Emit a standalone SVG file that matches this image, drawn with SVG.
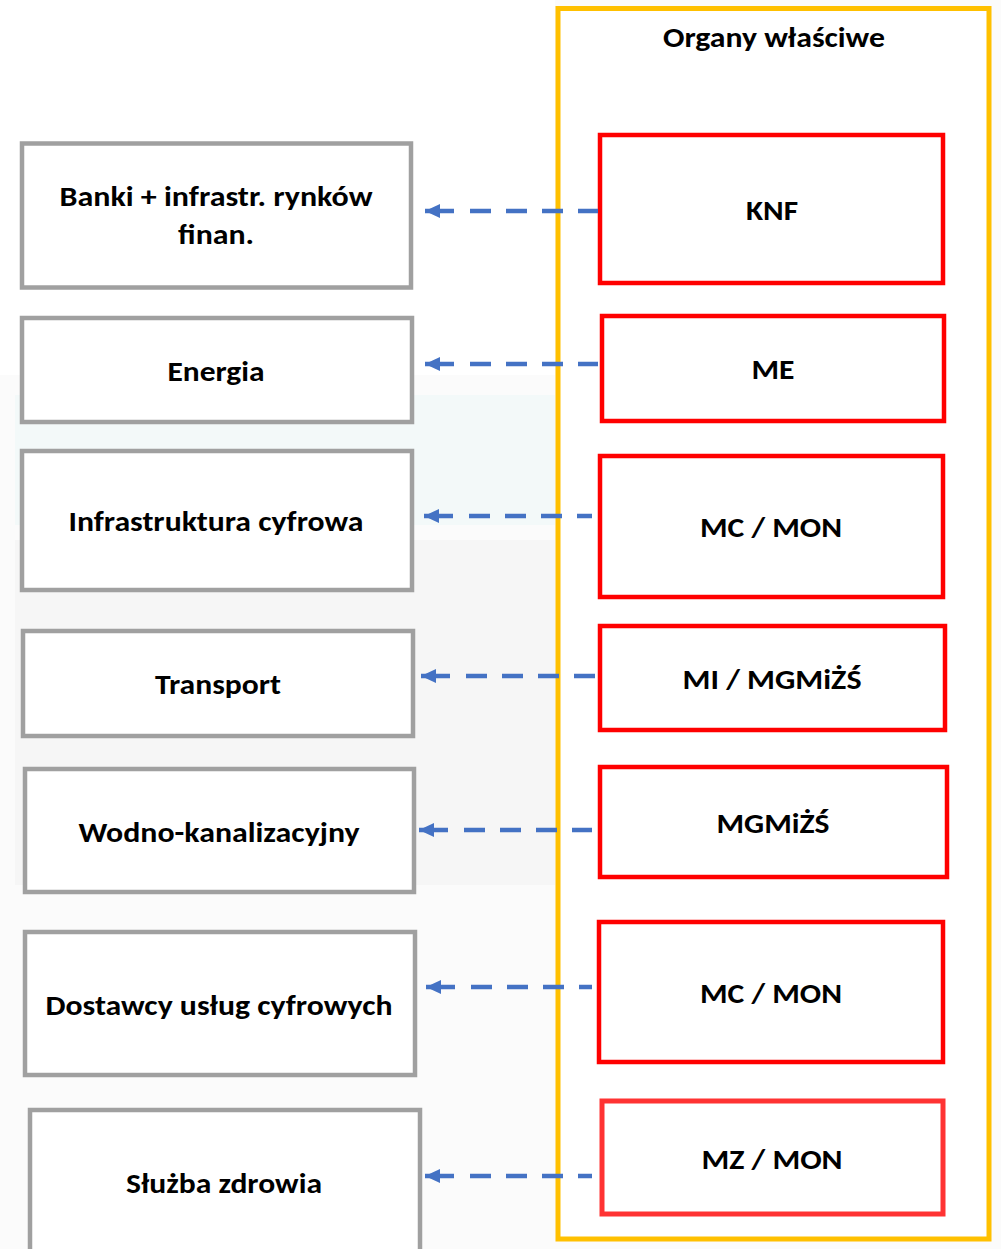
<svg xmlns="http://www.w3.org/2000/svg" width="1001" height="1249" viewBox="0 0 1001 1249">
  <defs>
    <style>
      .bg { fill: #fbfbfb; }
      .sector { fill: #ffffff; stroke: #a0a0a0; stroke-width: 4.5; }
      .organ { fill: #ffffff; stroke: #ff0000; stroke-width: 4.5; }
      .organ2 { fill: #ffffff; stroke: #ff3333; stroke-width: 5; }
      .frame { fill: #ffffff; stroke: #ffc000; stroke-width: 5; }
      .lbl { font-family: Carlito, Lato, "Open Sans", "Liberation Sans", sans-serif; font-weight: bold; font-size: 28px; fill: #000000; text-anchor: middle; }
      .conn { fill: none; stroke: #4472c4; stroke-width: 4.5; stroke-dasharray: 29 16 21 15 21 15 21 15 21 15 21 15; }
    </style>
    <marker id="head" viewBox="0 0 15 14" refX="15" refY="7" markerWidth="15" markerHeight="14" markerUnits="userSpaceOnUse" orient="auto-start-reverse">
      <path d="M0,0 L15,7 L0,14 z" fill="#4472c4"/>
    </marker>
  </defs>

  <rect class="bg" x="0" y="0" width="1001" height="1249"/>
  <g id="watermark">
    <rect x="0" y="0" width="555" height="375" fill="#ffffff"/>
    <rect x="15" y="395" width="540" height="130" fill="#e8f6f6" opacity="0.45"/>
    <rect x="15" y="540" width="540" height="345" fill="#f0f0f0" opacity="0.45"/>
  </g>

  <g id="organy">
    <rect class="frame" x="558" y="8.5" width="431" height="1230.5"/>
    <text class="lbl" x="774" y="47" textLength="222" lengthAdjust="spacingAndGlyphs">Organy właściwe</text>
  </g>

  <g id="banki">
    <rect class="sector" x="22" y="143.5" width="389" height="144"/>
    <text class="lbl" x="216" y="206" textLength="313" lengthAdjust="spacingAndGlyphs">Banki + infrastr. rynków</text>
    <text class="lbl" x="216" y="244" textLength="76" lengthAdjust="spacingAndGlyphs">finan.</text>
  </g>
  <g id="energia">
    <rect class="sector" x="22" y="318" width="390" height="104"/>
    <text class="lbl" x="216" y="381" textLength="97" lengthAdjust="spacingAndGlyphs">Energia</text>
  </g>
  <g id="infrastruktura">
    <rect class="sector" x="22" y="451" width="390" height="139"/>
    <text class="lbl" x="216" y="531" textLength="295" lengthAdjust="spacingAndGlyphs">Infrastruktura cyfrowa</text>
  </g>
  <g id="transport">
    <rect class="sector" x="23" y="631" width="390" height="105"/>
    <text class="lbl" x="218" y="694" textLength="126" lengthAdjust="spacingAndGlyphs">Transport</text>
  </g>
  <g id="wodno">
    <rect class="sector" x="25" y="769" width="389" height="123"/>
    <text class="lbl" x="219" y="842" textLength="281" lengthAdjust="spacingAndGlyphs">Wodno-kanalizacyjny</text>
  </g>
  <g id="dostawcy">
    <rect class="sector" x="25" y="932" width="390" height="143"/>
    <text class="lbl" x="219" y="1015" textLength="347" lengthAdjust="spacingAndGlyphs">Dostawcy usług cyfrowych</text>
  </g>
  <g id="sluzba">
    <rect class="sector" x="30" y="1110" width="390" height="150"/>
    <text class="lbl" x="224" y="1193" textLength="196" lengthAdjust="spacingAndGlyphs">Służba zdrowia</text>
  </g>

  <g id="knf">
    <rect class="organ" x="600" y="135" width="343" height="148"/>
    <text class="lbl" x="772" y="220" textLength="52" lengthAdjust="spacingAndGlyphs">KNF</text>
  </g>
  <g id="me">
    <rect class="organ" x="602" y="316" width="342" height="105"/>
    <text class="lbl" x="773" y="379" textLength="43" lengthAdjust="spacingAndGlyphs">ME</text>
  </g>
  <g id="mc-mon-1">
    <rect class="organ" x="600" y="456" width="343" height="141"/>
    <text class="lbl" x="771" y="537" textLength="142" lengthAdjust="spacingAndGlyphs">MC / MON</text>
  </g>
  <g id="mi-mgmizs">
    <rect class="organ" x="600" y="626" width="345" height="104"/>
    <text class="lbl" x="772" y="689" textLength="179" lengthAdjust="spacingAndGlyphs">MI / MGMiŻŚ</text>
  </g>
  <g id="mgmizs">
    <rect class="organ" x="600" y="767" width="347" height="110"/>
    <text class="lbl" x="773" y="833" textLength="113" lengthAdjust="spacingAndGlyphs">MGMiŻŚ</text>
  </g>
  <g id="mc-mon-2">
    <rect class="organ" x="599" y="922" width="344" height="140"/>
    <text class="lbl" x="771" y="1003" textLength="142" lengthAdjust="spacingAndGlyphs">MC / MON</text>
  </g>
  <g id="mz-mon">
    <rect class="organ2" x="602" y="1101" width="341" height="113"/>
    <text class="lbl" x="772" y="1169" textLength="141" lengthAdjust="spacingAndGlyphs">MZ / MON</text>
  </g>

  <g id="connectors">
    <path class="conn" d="M425,211 L598,211" marker-start="url(#head)"/>
    <path class="conn" d="M425,364 L598,364" marker-start="url(#head)"/>
    <path class="conn" d="M424,516 L592,516" marker-start="url(#head)"/>
    <path class="conn" d="M421,676 L595,676" marker-start="url(#head)"/>
    <path class="conn" d="M419,830 L592,830" marker-start="url(#head)"/>
    <path class="conn" d="M426,987 L592,987" marker-start="url(#head)"/>
    <path class="conn" d="M425,1176 L592,1176" marker-start="url(#head)"/>
  </g>
</svg>
